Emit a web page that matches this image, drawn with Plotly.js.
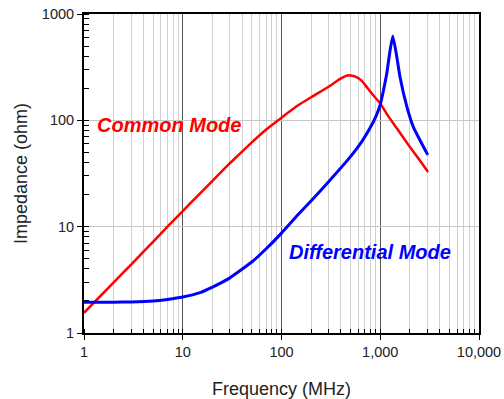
<!DOCTYPE html>
<html>
<head>
<meta charset="utf-8">
<script src="https://cdn.plot.ly/plotly-3.0.1.min.js"></script>
<style>html,body{margin:0;padding:0;background:#fff;}#chart{width:504px;height:399px;}</style>
</head>
<body>
<div id="chart"></div>
<script>
// Common mode impedance (ohm) vs frequency (MHz)
const cmFreq = [1, 2, 3, 5, 7, 10, 15, 20, 30, 50, 70, 100, 150, 200, 300, 400, 480, 560, 650, 750, 850, 1000, 1200, 1500, 2000, 2500, 3050];
const cmImp  = [1.55, 3.0, 4.4, 7.2, 10, 14.0, 20.6, 27.0, 39.5, 62, 82, 106, 140, 165, 207, 248, 265, 258, 235, 199, 172, 144, 110, 82, 56, 42.4, 32.7];

// Differential mode impedance (ohm) vs frequency (MHz)
const dmFreq = [1, 2, 3, 5, 7, 10, 15, 20, 30, 50, 70, 100, 150, 200, 300, 500, 650, 790, 900, 1000, 1080, 1166, 1259, 1340, 1472, 1585, 1862, 2172, 3030];
const dmImp  = [1.95, 1.95, 1.96, 2.0, 2.07, 2.18, 2.4, 2.7, 3.3, 4.65, 6.2, 8.7, 13.2, 17.5, 26.5, 45.6, 63, 85, 108, 140, 193, 279, 458, 620, 395, 256, 134, 86, 47.3];

const xTickVals = [1, 10, 100, 1000, 10000];
const xTickText = ["1", "10", "100", "1,000", "10,000"];
const yTickVals = [1, 10, 100, 1000];
const yTickText = ["1", "10", "100", "1000"];

const labelCM = {text: "Common Mode", x: 1.29, y: 89.5};
const labelDM = {text: "Differential Mode", x: 114, y: 5.78};

const traces = [
  {x: cmFreq, y: cmImp, type: "scatter", mode: "lines", line: {color: "#ff0000", width: 2.5, shape: "spline", smoothing: 0.4}, name: "Common Mode"},
  {x: dmFreq, y: dmImp, type: "scatter", mode: "lines", line: {color: "#0000ff", width: 3, shape: "spline", smoothing: 0.4}, name: "Differential Mode"}
];

const fam = "Liberation Sans, Arial, sans-serif";

const layout = {
  width: 504, height: 399,
  margin: {l: 84, r: 25, t: 14, b: 66},
  paper_bgcolor: "#fff", plot_bgcolor: "#fff",
  showlegend: false,
  font: {family: fam, size: 14, color: "#222"},
  xaxis: {
    type: "log", range: [0, 4],
    tickvals: xTickVals, ticktext: xTickText,
    ticks: "outside", ticklen: 5, tickcolor: "#000",
    tickfont: {family: fam, size: 14.5, color: "#222"},
    showgrid: true, gridcolor: "#555", gridwidth: 1,
    showline: true, linecolor: "#000", linewidth: 2, mirror: true,
    zeroline: false,
    minor: {dtick: "D1", showgrid: true, gridcolor: "#d0d0d0", gridwidth: 1, ticks: "inside", ticklen: 4, tickcolor: "#000"},
    title: {text: "Frequency (MHz)", font: {family: fam, size: 18, color: "#222"}, standoff: 23},
    automargin: false
  },
  yaxis: {
    type: "log", range: [0, 3],
    tickvals: yTickVals, ticktext: yTickText,
    ticks: "outside", ticklen: 5, tickcolor: "#000",
    tickfont: {family: fam, size: 14.5, color: "#222"},
    showgrid: true, gridcolor: "#c8c8c8", gridwidth: 1,
    showline: true, linecolor: "#000", linewidth: 2, mirror: true,
    zeroline: false,
    minor: {dtick: "D1", showgrid: false, ticks: "inside", ticklen: 5, tickcolor: "#000"},
    title: {text: "Impedance (ohm)", font: {family: fam, size: 18, color: "#222"}, standoff: 10},
    automargin: false
  },
  annotations: [
    {text: labelCM.text, x: Math.log10(labelCM.x), y: Math.log10(labelCM.y), xref: "x", yref: "y", xanchor: "left", yanchor: "middle", showarrow: false,
     font: {family: fam, size: 20, color: "#ff0000", weight: "bold", style: "italic"}},
    {text: labelDM.text, x: Math.log10(labelDM.x), y: Math.log10(labelDM.y), xref: "x", yref: "y", xanchor: "left", yanchor: "middle", showarrow: false,
     font: {family: fam, size: 20, color: "#0000ff", weight: "bold", style: "italic"}}
  ]
};

Plotly.newPlot("chart", traces, layout, {displayModeBar: false, staticPlot: true});
</script>
</body>
</html>
